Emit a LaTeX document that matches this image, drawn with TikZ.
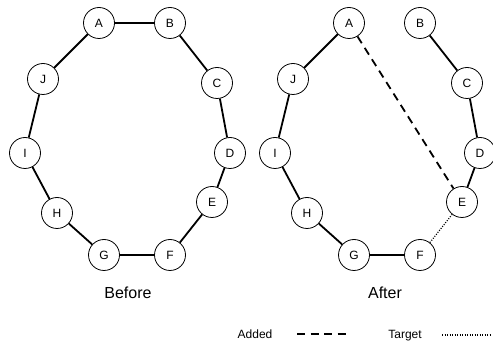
\documentclass[tikz,border=0pt]{standalone}
\usepackage{fontspec}
\setmainfont{Liberation Sans}
\begin{document}
\begin{tikzpicture}[x=1pt,y=-1pt,
  vtx/.style={circle,draw,line width=0.8pt,minimum size=31pt,inner sep=0pt,font=\fontsize{12}{13}\selectfont,fill=white},
  edge/.style={line width=1.8pt},
  added/.style={line width=1.8pt,dash pattern=on 8pt off 5.5pt},
  target/.style={line width=1.2pt,dash pattern=on 1pt off 1.5pt},
  captionlbl/.style={font=\fontsize{16}{18}\selectfont,anchor=base},
  leg/.style={font=\fontsize{12}{14}\selectfont,anchor=base}]
\useasboundingbox (0,0) rectangle (493,347);
% Before
\node[vtx] (bA) at (99,23) {A};
\node[vtx] (bB) at (170,23) {B};
\node[vtx] (bC) at (217,83) {C};
\node[vtx] (bD) at (230,153) {D};
\node[vtx] (bE) at (212,202) {E};
\node[vtx] (bF) at (170,255) {F};
\node[vtx] (bG) at (104,255) {G};
\node[vtx] (bH) at (57,213) {H};
\node[vtx] (bI) at (25,153) {I};
\node[vtx] (bJ) at (43,79) {J};
\draw[edge] (bA)--(bB) (bB)--(bC) (bC)--(bD) (bD)--(bE) (bE)--(bF) (bF)--(bG) (bG)--(bH) (bH)--(bI) (bI)--(bJ) (bJ)--(bA);
\node[captionlbl] (before) at (128,299) {Before};
% After
\node[vtx] (aA) at (349,23) {A};
\node[vtx] (aB) at (420,23) {B};
\node[vtx] (aC) at (467,83) {C};
\node[vtx] (aD) at (480,153) {D};
\node[vtx] (aE) at (462,202) {E};
\node[vtx] (aF) at (420,255) {F};
\node[vtx] (aG) at (354,255) {G};
\node[vtx] (aH) at (307,213) {H};
\node[vtx] (aI) at (275,153) {I};
\node[vtx] (aJ) at (293,79) {J};
\draw[edge] (aA)--(aJ) (aJ)--(aI) (aI)--(aH) (aH)--(aG) (aG)--(aF) (aB)--(aC) (aC)--(aD) (aD)--(aE);
\draw[added] (aA)--(aE);
\draw[target] (aF)--(aE);
\node[captionlbl] (after) at (385,299) {After};
% Legend
\node[leg] (ladded) at (255,338.5) {Added};
\coordinate (la1) at (297,334);
\coordinate (la2) at (345.5,334);
\draw[added] (la1)--(la2);
\node[leg] (ltarget) at (405,338.5) {Target};
\coordinate (lt1) at (442,335);
\coordinate (lt2) at (491,335);
\draw[target] (lt1)--(lt2);
\end{tikzpicture}
\end{document}
